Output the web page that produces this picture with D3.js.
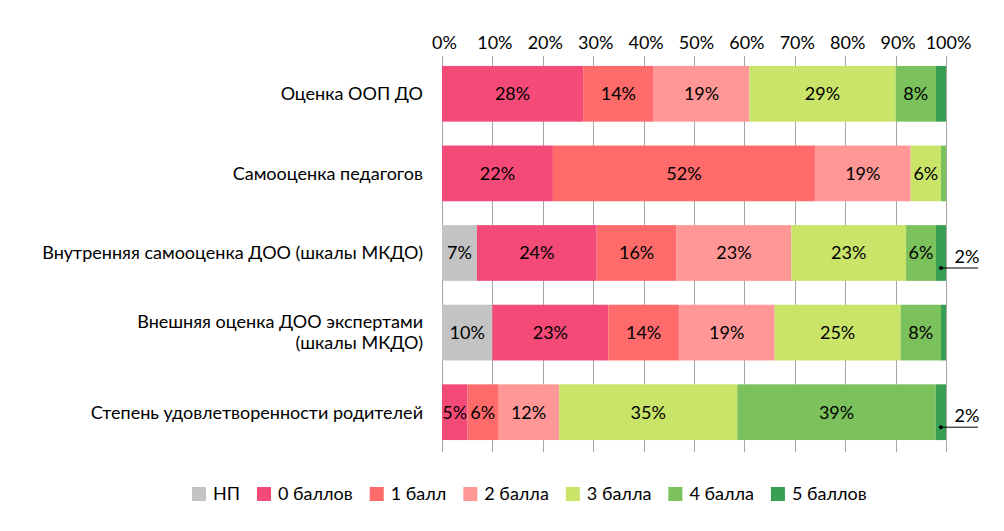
<!DOCTYPE html>
<html><head><meta charset="utf-8">
<script src="https://cdn.jsdelivr.net/npm/d3@7"></script>
<style>
html,body{margin:0;padding:0;background:#fff;}
svg{display:block;font-family:Lato,"Open Sans",sans-serif;}
</style></head>
<body><svg id="chart" width="1004" height="531"></svg>
<script>
const categories = ["Оценка ООП ДО", "Самооценка педагогов", "Внутренняя самооценка ДОО (шкалы МКДО)", "Внешняя оценка ДОО экспертами|(шкалы МКДО)", "Степень удовлетворенности родителей"];
const seriesNames = ["НП", "0 баллов", "1 балл", "2 балла", "3 балла", "4 балла", "5 баллов"];
const np = [0, 0, 7, 10, 0];
const b0 = [28, 22, 24, 23, 5];
const b1 = [14, 52, 16, 14, 6];
const b2 = [19, 19, 23, 19, 12];
const b3 = [29, 6, 23, 25, 35];
const b4 = [8, 1, 6, 8, 39];
const b5 = [2, 0, 2, 1, 2];
const tickValues = [0, 10, 20, 30, 40, 50, 60, 70, 80, 90, 100];
const calloutRows = [2, 4]; // rows whose "5 баллов" value is shown with a leader line
const colors = ["#c3c3c3", "#f44a78", "#ff6b6b", "#ff9797", "#c9e468", "#7bc15c", "#389e52"];

const FS = 18;
const seriesVals = [np, b0, b1, b2, b3, b4, b5];
const rows = categories.map((c, i) => {
  const r = {cat: c, idx: i};
  seriesNames.forEach((s, k) => r[s] = seriesVals[k][i]);
  return r;
});
const stacked = d3.stack().keys(seriesNames).offset(d3.stackOffsetExpand)(rows);

const svg = d3.select("#chart");
const x = d3.scaleLinear().domain([0, 1]).range([442, 946]);
const y = d3.scaleBand().domain(categories).range([54, 452]).paddingInner(0.3).paddingOuter(0.15);

// gridlines
svg.append("g").selectAll("line").data(tickValues).join("line")
  .attr("x1", d => Math.round(x(d / 100)) + 0.5).attr("x2", d => Math.round(x(d / 100)) + 0.5)
  .attr("y1", 56).attr("y2", 452)
  .attr("stroke", "#a6a6a6").attr("stroke-width", 1);

// top axis
const axis = svg.append("g").attr("transform", "translate(2,49)")
  .call(d3.axisTop(x).tickValues(tickValues.map(d => d / 100)).tickFormat(d => Math.round(d * 100) + "%").tickSize(0).tickPadding(0));
axis.select(".domain").remove();
axis.selectAll("text").attr("font-size", FS).attr("fill", "#000").attr("font-family", "Lato, sans-serif");

// bars
const layers = svg.append("g").selectAll("g").data(stacked).join("g")
  .attr("fill", (d, k) => colors[k]);
layers.selectAll("rect").data(d => d).join("rect")
  .attr("x", d => x(d[0])).attr("width", d => x(d[1]) - x(d[0]))
  .attr("y", d => y(d.data.cat)).attr("height", y.bandwidth());

// data labels inside
const lbl = svg.append("g").attr("font-size", FS).attr("fill", "#000").attr("text-anchor", "middle");
stacked.forEach((layer, k) => {
  layer.forEach(d => {
    const v = d.data[seriesNames[k]];
    if (v >= 3) {
      lbl.append("text")
        .attr("x", (x(d[0]) + x(d[1])) / 2)
        .attr("y", y(d.data.cat) + y.bandwidth() / 2)
        .attr("dy", "0.35em")
        .text(v + "%");
    }
  });
});

// callout labels for the last series
const last = stacked[stacked.length - 1];
calloutRows.forEach(i => {
  const d = last[i];
  const px = (x(d[0]) + x(d[1])) / 2;
  const py = y(d.data.cat) + y.bandwidth() / 2 + 15;
  const g = svg.append("g");
  g.append("circle").attr("cx", px).attr("cy", py).attr("r", 2).attr("fill", "#000");
  g.append("line").attr("x1", px).attr("x2", 978).attr("y1", py).attr("y2", py).attr("stroke", "#000").attr("stroke-width", 1);
  g.append("text").attr("x", 967).attr("y", py - 5).attr("text-anchor", "middle").attr("font-size", FS).text(d.data[seriesNames[6]] + "%");
});

// category labels
const cl = svg.append("g").attr("font-size", FS).attr("fill", "#000").attr("text-anchor", "end");
categories.forEach(c => {
  const lines = c.split("|");
  const cy = y(c) + y.bandwidth() / 2;
  const lh = 21;
  lines.forEach((t, j) => {
    cl.append("text").attr("x", 423)
      .attr("y", cy + (j - (lines.length - 1) / 2) * lh)
      .attr("dy", "0.35em").text(t);
  });
});

// legend
const leg = svg.append("g").attr("font-size", FS);
let lx = 192;
const ly = 494;
seriesNames.forEach((s, k) => {
  leg.append("rect").attr("x", lx).attr("y", ly - 7).attr("width", 14).attr("height", 14).attr("fill", colors[k]);
  const t = leg.append("text").attr("x", lx + 21).attr("y", ly).attr("dy", "0.35em").text(s);
  lx += 21 + t.node().getComputedTextLength() + 17;
});
</script>
</body></html>
